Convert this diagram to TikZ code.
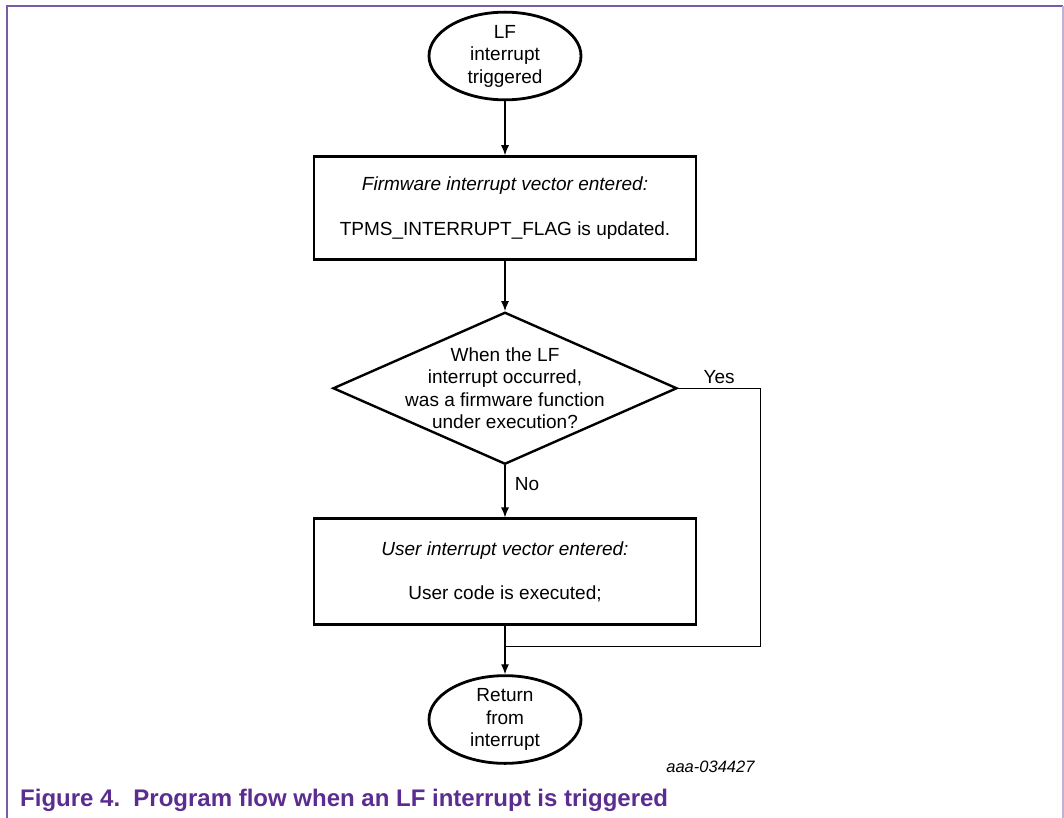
\documentclass[tikz,border=0pt]{standalone}
\usepackage{fontspec}
\setmainfont{Liberation Sans}
\usetikzlibrary{shapes.geometric,positioning,arrows.meta}
\definecolor{nxppurple}{HTML}{5C2D91}
\definecolor{framepurple}{HTML}{7A5BA8}
\definecolor{framelight}{HTML}{BFB2D6}

\tikzset{
  terminal/.style={ellipse, draw, line width=2.8pt, minimum width=152pt, minimum height=84pt, inner sep=0pt, align=center},
  process/.style={rectangle, draw, line width=2.8pt, minimum width=382pt, minimum height=103pt, align=center},
  decision/.style={diamond, draw, line width=2.4pt, minimum width=344pt, minimum height=152pt, inner sep=0pt},
  flow/.style={line width=1.2pt, -{Latex[length=10pt,width=8pt]}},
  link/.style={line width=1.2pt},
}

\begin{document}
\begin{tikzpicture}[x=1pt, y=1pt, font=\fontsize{19}{22.5}\selectfont]
  \useasboundingbox (0,0) rectangle (1064,-818);
  \draw[framepurple, line width=1.5pt] (7,-818) -- (7,-6) -- (1063,-6);
  \draw[framelight, line width=1.5pt] (1063,-6) -- (1063,-818);

  \node[terminal] (start) at (505,-56) {LF\\interrupt\\triggered};
  \node[process, below=54pt of start] (fwvec)
    {\textit{Firmware interrupt vector entered:}\\[22pt]TPMS\_INTERRUPT\_FLAG is updated.};
  \node[decision, below=50pt of fwvec,
    label={[align=center]center:{When the LF\\interrupt occurred,\\was a firmware function\\under execution?}}] (check) {};
  \node[process, below=52pt of check, minimum height=106pt] (usrvec)
    {\textit{User interrupt vector entered:}\\[22pt]User code is executed;};
  \node[terminal, below=48pt of usrvec] (stop) {Return\\from\\interrupt};

  \coordinate[below=20pt of usrvec] (merge);
  \coordinate[right=82pt of check.east] (yesturn);

  \draw[flow] (start) -- (fwvec);
  \draw[flow] (fwvec) -- (check);
  \draw[flow] (check) -- node[right, pos=0.35, xshift=6pt] {No} (usrvec);
  \draw[flow] (usrvec) -- (stop);
  \draw[link] (check.east) -- node[above, inner sep=4pt] {Yes} (yesturn) |- (merge);

  \node[anchor=east, font=\fontsize{16.5}{19}\selectfont\itshape] (figid) at (758,-767) {aaa-034427};
  \node[anchor=base west, inner sep=0pt, text=nxppurple, font=\fontsize{24}{28}\selectfont\bfseries] (caption) at (20,-806)
    {Figure 4.\hspace{0.55em}Program flow when an LF interrupt is triggered};
\end{tikzpicture}
\end{document}
